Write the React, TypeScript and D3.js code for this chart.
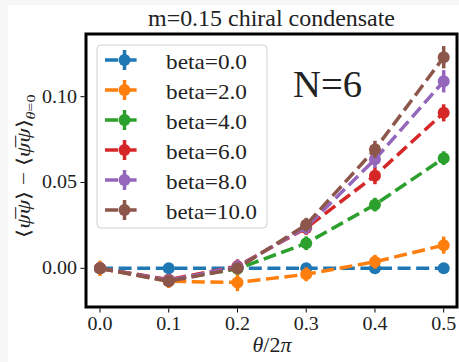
import React from "react";
import * as d3 from "d3";

const xValues = [0.0, 0.1, 0.2, 0.3, 0.4, 0.5];
const seriesNames = ["beta=0.0", "beta=2.0", "beta=4.0", "beta=6.0", "beta=8.0", "beta=10.0"];
const colors = ["#1f77b4", "#ff7f0e", "#2ca02c", "#d62728", "#9467bd", "#8c564b"];
const beta0 = [0, 0, 0, 0, 0, 0];
const beta0Err = [0, 0, 0, 0, 0, 0];
const beta2 = [0, -0.0075, -0.0083, -0.0035, 0.0038, 0.0135];
const beta2Err = [0.0045, 0.004, 0.005, 0.004, 0.004, 0.005];
const beta4 = [0, -0.0068, -0.0003, 0.0146, 0.0371, 0.0642];
const beta4Err = [0.003, 0.003, 0.003, 0.004, 0.004, 0.004];
const beta6 = [0, -0.0066, 0.0012, 0.0235, 0.054, 0.0906];
const beta6Err = [0.002, 0.003, 0.004, 0.004, 0.005, 0.005];
const beta8 = [0, -0.007, 0.0008, 0.024, 0.0635, 0.109];
const beta8Err = [0.002, 0.003, 0.004, 0.004, 0.005, 0.0065];
const beta10 = [0, -0.0076, 0.0, 0.0254, 0.0693, 0.123];
const beta10Err = [0.002, 0.003, 0.003, 0.004, 0.005, 0.0065];
const xTicks = [0.0, 0.1, 0.2, 0.3, 0.4, 0.5];
const xTickLabels = ["0.0", "0.1", "0.2", "0.3", "0.4", "0.5"];
const yTicks = [0.0, 0.05, 0.1];
const yTickLabels = ["0.00", "0.05", "0.10"];

const series = [beta0, beta2, beta4, beta6, beta8, beta10];
const errors = [beta0Err, beta2Err, beta4Err, beta6Err, beta8Err, beta10Err];

const W = 459;
const H = 362;
const L = 86, R = 457, T = 34, B = 307;
const FONT = "Liberation Serif";

export default function App() {
  const x = d3.scaleLinear().domain([0, 0.5]).range([100, 443.7]);
  const y = d3.scaleLinear().domain([0, 0.1]).range([268.3, 96.7]);
  const line = d3.line<number>().x((_, i) => x(xValues[i])).y((d) => y(d));
  const dash = "13,5.6";
  const lw = 3.5;
  const legendY = [60, 90, 120, 150, 180, 210];

  return (
    <svg width={W} height={H} style={{ position: "absolute", left: 0, top: 0, fontFamily: FONT }}>
      <rect x={0} y={0} width={W} height={H} fill="#f6f6f6" />
      <rect x={8} y={5} width={W - 8} height={H - 5} fill="#ffffff" />
      <text x={271.5} y={26} fontSize={23} textAnchor="middle" textLength={247} lengthAdjust="spacingAndGlyphs" fill="#222">m=0.15 chiral condensate</text>
      <defs>
        <clipPath id="plotclip">
          <rect x={L} y={T} width={R - L} height={B - T} />
        </clipPath>
      </defs>
      <g clipPath="url(#plotclip)">
        {series.map((s, si) => (
          <g key={si}>
            <path d={line(s) || ""} fill="none" stroke={colors[si]} strokeWidth={lw} strokeDasharray={dash} />
            {s.map((v, i) => (
              <line key={"e" + i} x1={x(xValues[i])} x2={x(xValues[i])} y1={y(v - errors[si][i])} y2={y(v + errors[si][i])} stroke={colors[si]} strokeWidth={lw} />
            ))}
            {s.map((v, i) => (
              <circle key={"c" + i} cx={x(xValues[i])} cy={y(v)} r={6} fill={colors[si]} />
            ))}
          </g>
        ))}
      </g>
      <rect x={L} y={T} width={R - L} height={B - T} fill="none" stroke="#000" strokeWidth={3} />
      {xTicks.map((t, i) => (
        <g key={"xt" + i}>
          <line x1={x(t)} x2={x(t)} y1={B + 1.5} y2={B + 5.5} stroke="#000" strokeWidth={1} />
          <text x={x(t)} y={330} fontSize={19} textAnchor="middle" textLength={25} lengthAdjust="spacingAndGlyphs" fill="#222">{xTickLabels[i]}</text>
        </g>
      ))}
      {yTicks.map((t, i) => (
        <g key={"yt" + i}>
          <line x1={L - 1.5} x2={L - 5.5} y1={y(t)} y2={y(t)} stroke="#000" strokeWidth={1} />
          <text x={77} y={y(t) + 5.8} fontSize={19} textAnchor="end" textLength={35} lengthAdjust="spacingAndGlyphs" fill="#222">{yTickLabels[i]}</text>
        </g>
      ))}
      <text x={272} y={352} fontSize={22} textAnchor="middle" fill="#222">
        <tspan fontStyle="italic">θ</tspan>/2<tspan fontStyle="italic">π</tspan>
      </text>
      <text transform="translate(30,166) rotate(-90)" fontSize={19} textAnchor="middle" fill="#222" textLength={143} lengthAdjust="spacingAndGlyphs">
        ⟨<tspan fontStyle="italic">ψ̅ψ</tspan>⟩ − ⟨<tspan fontStyle="italic">ψ̅ψ</tspan>⟩<tspan fontSize={13} dy={5} fontStyle="italic">θ</tspan><tspan fontSize={13}>=0</tspan>
      </text>
      <text x={293} y={97} fontSize={37} textLength={69} lengthAdjust="spacingAndGlyphs" fill="#222">N=6</text>
      <rect x={97} y={45} width={170} height={183} rx={4} fill="#ffffff" fillOpacity={0.8} stroke="#d0d0d0" strokeWidth={1} />
      {seriesNames.map((name, i) => (
        <g key={"lg" + i}>
          <line x1={105} x2={142} y1={legendY[i]} y2={legendY[i]} stroke={colors[i]} strokeWidth={lw} strokeDasharray={dash} />
          <line x1={124.5} x2={124.5} y1={legendY[i] - 10} y2={legendY[i] + 10} stroke={colors[i]} strokeWidth={lw} />
          <circle cx={124.5} cy={legendY[i]} r={6} fill={colors[i]} />
          <text x={166} y={legendY[i] + 8.5} fontSize={22} textLength={name.length === 9 ? 91 : 81} lengthAdjust="spacingAndGlyphs" fill="#222">{name}</text>
        </g>
      ))}
    </svg>
  );
}
